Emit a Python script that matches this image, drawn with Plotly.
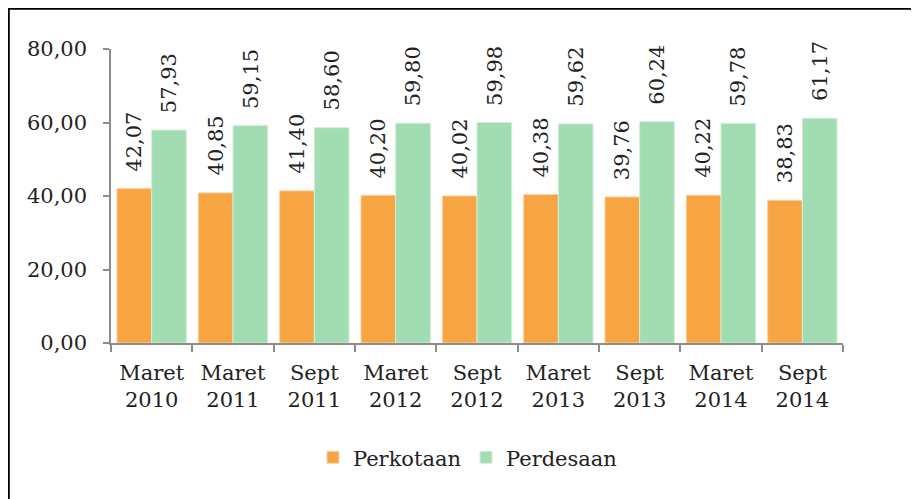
import plotly.graph_objects as go

categories = ["Maret<br>2010", "Maret<br>2011", "Sept<br>2011", "Maret<br>2012", "Sept<br>2012",
              "Maret<br>2013", "Sept<br>2013", "Maret<br>2014", "Sept<br>2014"]
perkotaan = [42.07, 40.85, 41.40, 40.20, 40.02, 40.38, 39.76, 40.22, 38.83]
perdesaan = [57.93, 59.15, 58.60, 59.80, 59.98, 59.62, 60.24, 59.78, 61.17]
series_names = ["Perkotaan", "Perdesaan"]
y_ticks = [0, 20, 40, 60, 80]

ORANGE = "#F6A542"
GREEN = "#A1DCB2"
FONT = "DejaVu Serif"
FS = 21

fig = go.Figure()
fig.add_trace(go.Bar(x=categories, y=perkotaan, name=series_names[0],
                     marker=dict(color=ORANGE, line=dict(color="#FBD3A5", width=1))))
fig.add_trace(go.Bar(x=categories, y=perdesaan, name=series_names[1],
                     marker=dict(color=GREEN, line=dict(color="#D3EFDA", width=1))))

def fmt(v):
    return f"{v:.2f}".replace(".", ",")

annotations = []
for series, shift in ((perkotaan, -17.4), (perdesaan, 17.4)):
    for c, v in zip(categories, series):
        annotations.append(dict(x=c, y=v, xref="x", yref="y", text=fmt(v), showarrow=False,
                                textangle=-90, xshift=shift, yshift=15, yanchor="bottom",
                                font=dict(family=FONT, size=FS, color="#222")))

# page has an 8px body margin: figure is 911x491 and everything is placed 8px up/left
fig.update_layout(
    width=911, height=491,
    margin=dict(l=103, r=76, t=41, b=156),
    paper_bgcolor="white", plot_bgcolor="white",
    barmode="group", bargap=0.147, bargroupgap=0,
    separators=",.",
    font=dict(family=FONT, size=FS, color="#222"),
    showlegend=True,
    legend=dict(orientation="h", x=0.487, xanchor="center", y=-0.39, yanchor="middle",
                font=dict(family=FONT, size=FS, color="#222"), itemwidth=30,
                traceorder="normal"),
    annotations=annotations,
    shapes=[dict(type="rect", xref="paper", yref="paper", x0=-0.1400, x1=1.5, y0=-1.0, y1=1.1378,
                 line=dict(color="black", width=2.5), layer="above")],
)
fig.update_xaxes(showline=True, linecolor="#8C8C8C", linewidth=1.5, ticks="outside",
                 tickson="boundaries", ticklen=7, tickcolor="#8C8C8C", tickwidth=1.5,
                 ticklabelstandoff=10,
                 showgrid=False, tickfont=dict(family=FONT, size=FS, color="#222"))
fig.update_yaxes(range=[0, 80], tickvals=y_ticks, tickformat=".2f", showline=True,
                 linecolor="#8C8C8C", linewidth=1.5, ticks="outside", ticklen=6,
                 tickcolor="#8C8C8C", tickwidth=1.5, showgrid=False, zeroline=False,
                 ticklabelstandoff=12, tickfont=dict(family=FONT, size=FS, color="#222"))

fig.write_html("out.html")
